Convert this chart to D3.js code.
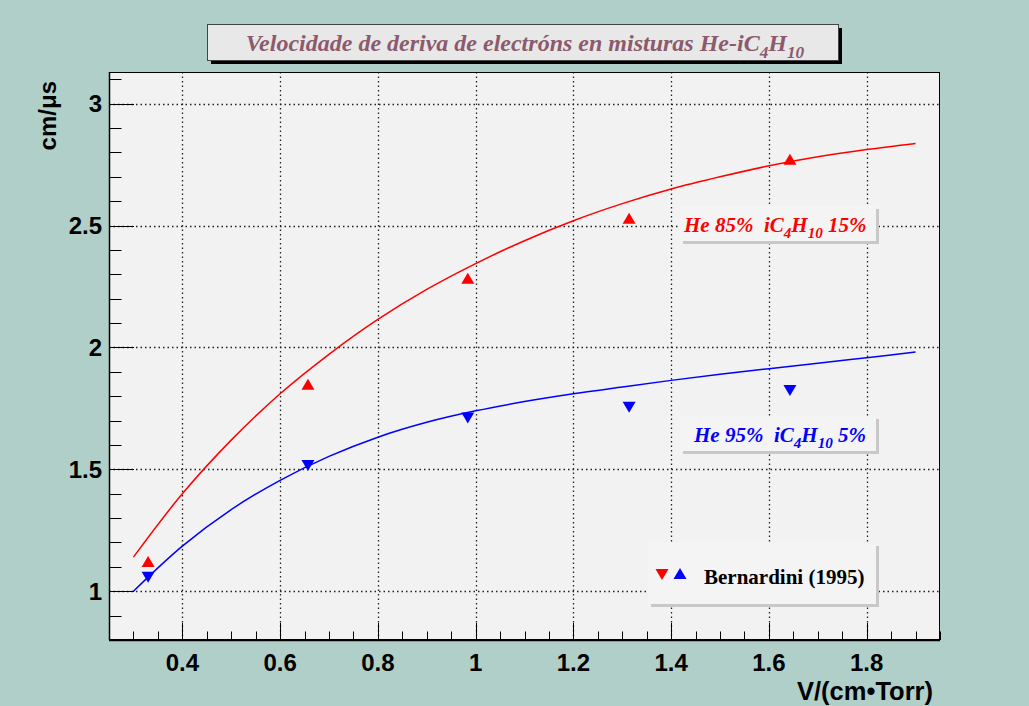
<!DOCTYPE html>
<html><head><meta charset="utf-8">
<script src="https://cdn.jsdelivr.net/npm/d3@7"></script>
<style>body{margin:0;background:#b0cfc8;overflow:hidden}svg{display:block}text{white-space:pre}</style>
</head><body><svg id="c" width="1029" height="706"></svg>
<script>
// ---- data ----
const curveX = [0.3,0.4,0.5,0.6,0.7,0.8,0.9,1.0,1.1,1.2,1.3,1.4,1.5,1.6,1.7,1.8,1.9];
const redCurve = [1.14,1.40,1.62,1.81,1.972,2.115,2.238,2.344,2.438,2.52,2.59,2.65,2.70,2.745,2.782,2.812,2.837];
const blueCurve = [1.0,1.185,1.335,1.455,1.553,1.632,1.693,1.74,1.778,1.81,1.838,1.865,1.89,1.913,1.935,1.958,1.981];
const pointX = [0.330,0.657,0.984,1.314,1.643];
const redPoints = [1.120,1.847,2.282,2.528,2.770];
const bluePoints = [1.059,1.518,1.713,1.757,1.826];
const xTicks = [0.4,0.6,0.8,1.0,1.2,1.4,1.6,1.8];
const xTickLabels = ["0.4","0.6","0.8","1","1.2","1.4","1.6","1.8"];
const yTicks = [1,1.5,2,2.5,3];
const yTickLabels = ["1","1.5","2","2.5","3"];

const svg = d3.select("#c");
const W = 1029, H = 706;
const L = 109, R = 940, T = 72, B = 640;
const x = d3.scaleLinear().domain([0.25,1.95]).range([L,R]);
const y = d3.scaleLinear().domain([0.8,3.13]).range([B,T]);

svg.append("rect").attr("width",W).attr("height",H).attr("fill","#b0cfc8");
svg.append("rect").attr("x",L).attr("y",T).attr("width",R-L).attr("height",B-T).attr("fill","#f2f2f2");

// grid
const grid = svg.append("g").attr("stroke","#222").attr("stroke-width",1.3).attr("stroke-dasharray","1.5,3");
grid.selectAll(".gx").data(xTicks).join("line")
  .attr("x1",d=>Math.round(x(d))+0.5).attr("x2",d=>Math.round(x(d))+0.5).attr("y1",T).attr("y2",B);
grid.selectAll(".gy").data(yTicks).join("line")
  .attr("y1",d=>Math.round(y(d))+0.5).attr("y2",d=>Math.round(y(d))+0.5).attr("x1",L).attr("x2",R);

// ticks (inward)
const xMinor = d3.range(0.25,1.951,0.05).map(v=>+v.toFixed(2));
const yMinor = d3.range(0.8,3.101,0.1).map(v=>+v.toFixed(2));
const tk = svg.append("g").attr("stroke","#000").attr("stroke-width",1);
tk.selectAll(".tx").data(xMinor).join("line")
  .attr("x1",d=>Math.round(x(d))+0.5).attr("x2",d=>Math.round(x(d))+0.5)
  .attr("y1",B).attr("y2",d=>B-(xTicks.some(t=>Math.abs(t-d)<1e-6)?17:8.5));
tk.selectAll(".ty").data(yMinor).join("line")
  .attr("y1",d=>Math.round(y(d))+0.5).attr("y2",d=>Math.round(y(d))+0.5)
  .attr("x1",L).attr("x2",d=>L+(yTicks.some(t=>Math.abs(t-d)<1e-6)?25:12.5));

// frame
svg.append("rect").attr("x",L+0.5).attr("y",T+0.5).attr("width",R-L-1).attr("height",B-T-1)
  .attr("fill","none").attr("stroke","#000").attr("stroke-width",1);
svg.append("line").attr("x1",L).attr("x2",R).attr("y1",B+0.5).attr("y2",B+0.5).attr("stroke","#000").attr("stroke-width",1.5);
svg.append("line").attr("x1",L+0.5).attr("x2",L+0.5).attr("y1",T).attr("y2",B).attr("stroke","#000").attr("stroke-width",1.5);

// tick labels
const sans = "'Liberation Sans', Arial, sans-serif";
svg.append("g").selectAll("text").data(xTicks).join("text")
  .attr("x",d=>x(d)).attr("y",671).attr("text-anchor","middle")
  .attr("font-family",sans).attr("font-weight","bold").attr("font-size",24)
  .text((d,i)=>xTickLabels[i]);
svg.append("g").selectAll("text").data(yTicks).join("text")
  .attr("x",102).attr("y",d=>y(d)+8.5).attr("text-anchor","end")
  .attr("font-family",sans).attr("font-weight","bold").attr("font-size",24)
  .text((d,i)=>yTickLabels[i]);
svg.append("text").attr("x",933).attr("y",700).attr("text-anchor","end")
  .attr("font-family",sans).attr("font-weight","bold").attr("font-size",25.5)
  .text("V/(cm•Torr)");
svg.append("text").attr("transform","translate(56,81) rotate(-90)").attr("text-anchor","end")
  .attr("font-family",sans).attr("font-weight","bold").attr("font-size",24)
  .text("cm/μs");

// curves
const line = d3.line().x((d,i)=>x(curveX[i])).y(d=>y(d)).curve(d3.curveCatmullRom.alpha(0.5));
svg.append("path").datum(redCurve).attr("d",line).attr("fill","none").attr("stroke","#ff0000").attr("stroke-width",1.5);
svg.append("path").datum(blueCurve).attr("d",line).attr("fill","none").attr("stroke","#0000ff").attr("stroke-width",1.5);

// markers
const up = "M0,-6L6.5,5L-6.5,5Z", down = "M0,6L6.5,-5L-6.5,-5Z";
svg.append("g").selectAll("path").data(redPoints).join("path")
  .attr("transform",(d,i)=>`translate(${x(pointX[i])},${y(d)})`).attr("d",up).attr("fill","#ff0000");
svg.append("g").selectAll("path").data(bluePoints).join("path")
  .attr("transform",(d,i)=>`translate(${x(pointX[i])},${y(d)})`).attr("d",down).attr("fill","#0000ff");

// title box
const serif = "'Liberation Serif', 'Times New Roman', serif";
svg.append("rect").attr("x",211).attr("y",28).attr("width",631).attr("height",36).attr("fill","#000");
svg.append("rect").attr("x",207.5).attr("y",24.5).attr("width",631).attr("height",36).attr("fill","#e8e8e8").attr("stroke","#444").attr("stroke-width",1);
function chem(sel, parts, size){
  parts.forEach(p=>{
    const t = sel.append("tspan").text(p.t);
    if(p.sub){ t.attr("font-size",size*0.72).attr("dy",size*0.3); }
    else if(p.after){ t.attr("dy",-size*0.3); }
  });
}
const titleT = svg.append("text").attr("x",525).attr("y",51).attr("text-anchor","middle")
  .attr("font-family",serif).attr("font-weight","bold").attr("font-style","italic").attr("font-size",24)
  .attr("fill","#8c5a6c");
chem(titleT,[{t:"Velocidade de deriva de electróns en misturas He-iC"},{t:"4",sub:true},{t:"H",after:true},{t:"10",sub:true}],24);

// legend boxes
function box(x0,y0,w,h){
  svg.append("rect").attr("x",x0+3).attr("y",y0+3).attr("width",w).attr("height",h).attr("fill","#c8c8c8");
  svg.append("rect").attr("x",x0).attr("y",y0).attr("width",w).attr("height",h).attr("fill","#f4f4f4");
}
box(680,206,196,35);
const t1 = svg.append("text").attr("x",684).attr("y",232)
  .attr("font-family",serif).attr("font-weight","bold").attr("font-style","italic").attr("font-size",21).attr("fill","#ff0000");
chem(t1,[{t:"He 85%  iC"},{t:"4",sub:true},{t:"H",after:true},{t:"10",sub:true},{t:" 15%",after:true}],21);

box(680,416,196,35);
const t2 = svg.append("text").attr("x",694).attr("y",442)
  .attr("font-family",serif).attr("font-weight","bold").attr("font-style","italic").attr("font-size",21).attr("fill","#0000ff");
chem(t2,[{t:"He 95%  iC"},{t:"4",sub:true},{t:"H",after:true},{t:"10",sub:true},{t:" 5%",after:true}],21);

box(648,543,228,61);
svg.append("path").attr("transform","translate(662,574)").attr("d",down).attr("fill","#ff0000");
svg.append("path").attr("transform","translate(680,574)").attr("d",up).attr("fill","#0000ff");
svg.append("text").attr("x",704).attr("y",584)
  .attr("font-family",serif).attr("font-weight","bold").attr("font-size",21).attr("fill","#000")
  .text("Bernardini (1995)");
</script></body></html>
